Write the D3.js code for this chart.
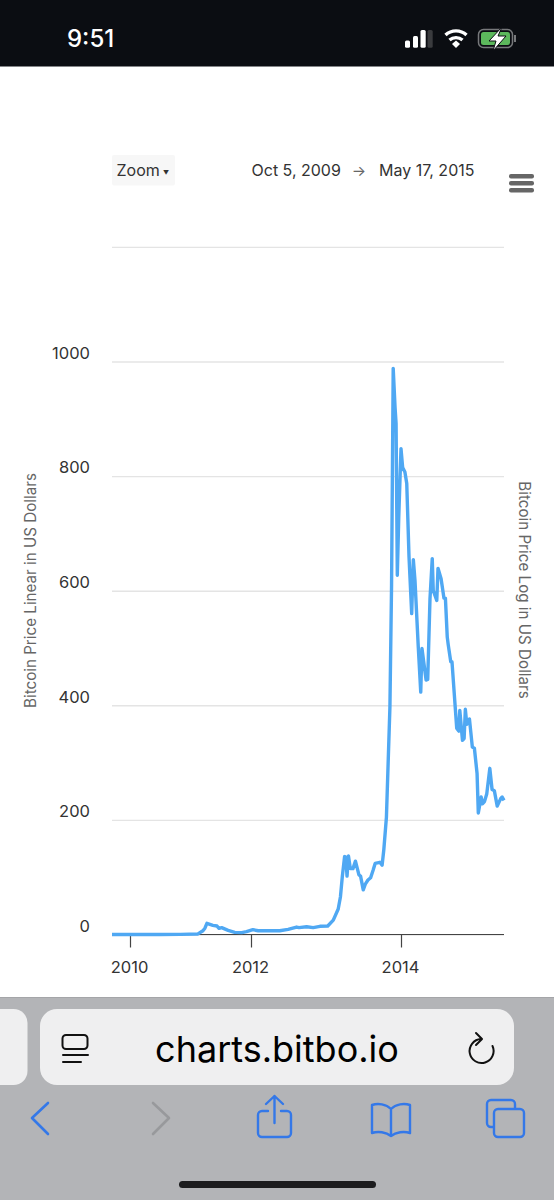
<!DOCTYPE html>
<html><head><meta charset="utf-8">
<script src="https://cdn.jsdelivr.net/npm/d3@7"></script>
<style>html,body{margin:0;padding:0;background:#fff}svg{display:block}text{font-family:Inter,"Noto Sans",sans-serif}</style>
</head><body><svg id="c" width="554" height="1200"></svg>
<script>
const dates = ["2009-10-05","2010-07-01","2010-11-01","2011-02-15","2011-03-17","2011-03-29","2011-04-10","2011-05-16","2011-06-10","2011-06-22","2011-07-08","2011-08-16","2011-09-25","2011-11-06","2011-12-05","2012-01-10","2012-02-05","2012-05-20","2012-06-30","2012-08-10","2012-08-22","2012-09-28","2012-10-30","2012-12-02","2013-01-09","2013-02-05","2013-03-01","2013-03-12","2013-03-21","2013-04-01","2013-04-07","2013-04-13","2013-04-20","2013-04-29","2013-05-12","2013-05-24","2013-06-10","2013-06-18","2013-07-01","2013-07-11","2013-07-24","2013-08-06","2013-08-18","2013-08-28","2013-09-20","2013-10-01","2013-10-09","2013-10-22","2013-11-08","2013-11-16","2013-11-24","2013-12-03","2013-12-08","2013-12-14","2013-12-21","2014-01-01","2014-01-09","2014-01-20","2014-01-29","2014-02-09","2014-02-22","2014-03-02","2014-03-10","2014-03-26","2014-04-07","2014-04-13","2014-05-03","2014-05-11","2014-05-22","2014-06-02","2014-06-07","2014-06-24","2014-06-30","2014-07-15","2014-07-29","2014-08-05","2014-08-14","2014-08-19","2014-08-31","2014-09-06","2014-09-29","2014-10-09","2014-10-14","2014-10-27","2014-11-04","2014-11-10","2014-11-17","2014-11-30","2014-12-14","2014-12-24","2015-01-06","2015-01-12","2015-01-26","2015-02-01","2015-02-11","2015-02-22","2015-03-09","2015-03-20","2015-03-31","2015-04-14","2015-05-02","2015-05-08","2015-05-17"];
const prices = [0,0.06,0.3,1,6.5,11,19.5,16,14.8,10.8,12,7.3,3.8,3.2,4.9,8.4,6.6,6.6,9,13,12,13.6,12,14.3,14.8,25,44.5,66,101,136,135,102,137,115,115,128,104,102,78,88,95,99,112,124,126,121,147,205,397,610,988,920,892,627,728,848,815,807,787,659,560,654,618,502,423,499,444,445,586,656,600,583,639,621,587,587,519,505,476,476,360,355,391,339,342,393,367,376,327,325,281,212,240,228,232,245,290,253,251,224,238,240,234];
const yTicks = [0,200,400,600,800,1000,1200];
const yLabels = [0,200,400,600,800,1000];
const xTicks = ["2010-01-01","2012-01-01","2014-01-01"];
const rangeFrom = "Oct 5, 2009", rangeTo = "May 17, 2015";
const yTitleLeft = "Bitcoin Price Linear in US Dollars", yTitleRight = "Bitcoin Price Log in US Dollars";

const p = d3.timeParse("%Y-%m-%d");
const svg = d3.select("#c");
// Chrome of the phone
svg.append("rect").attr("width",554).attr("height",66.5).attr("fill","#0b0d12");
svg.append("text").attr("x",67).attr("y",46.5).attr("fill","#fff").attr("font-size",24).attr("font-weight",500).text("9:51");
[[405,40.6,5,7.1,"#fff"],[413,36,5,11.7,"#fff"],[420.5,30,5.2,17.7,"#fff"],[427.5,30,5.2,17.7,"#3a3b3e"]].forEach(b=>svg.append("rect").attr("x",b[0]).attr("y",b[1]).attr("width",b[2]).attr("height",b[3]).attr("rx",1.5).attr("fill",b[4]));
svg.append("path").attr("d","M445.5 35a15.5 15.5 0 0 1 21 0M449.5 40a10 10 0 0 1 13 0").attr("fill","none").attr("stroke","#fff").attr("stroke-width",3.4);
svg.append("path").attr("d","M452 44l4 -3.5l4 3.5l-4 4z").attr("fill","#fff");
svg.append("rect").attr("x",478.5).attr("y",29.5).attr("width",34).attr("height",18).attr("rx",5).attr("fill","none").attr("stroke","#77787b").attr("stroke-width",1.5);
svg.append("rect").attr("x",481).attr("y",32).attr("width",29).attr("height",13).attr("rx",2.5).attr("fill","#5cb85c");
svg.append("path").attr("d","M502 27l-13 14h7l-3 10l13 -15h-8z").attr("fill","#fff").attr("stroke","#0b0d12").attr("stroke-width",1);
svg.append("rect").attr("x",514).attr("y",35).attr("width",2).attr("height",7).attr("fill","#77787b");

// Chart header
svg.append("rect").attr("x",112).attr("y",155).attr("width",63).attr("height",30.5).attr("rx",2).attr("fill","#f7f7f7");
const hdr = "#333";
svg.append("text").attr("x",116.5).attr("y",176).attr("font-size",16).attr("fill",hdr).text("Zoom");
svg.append("text").attr("x",166).attr("y",174.5).attr("font-size",6).attr("text-anchor","middle").attr("fill",hdr).text("▼");
svg.append("text").attr("x",251.5).attr("y",176).attr("font-size",16).attr("fill",hdr).text(rangeFrom);
svg.append("text").attr("x",359).attr("y",176).attr("font-size",15).attr("text-anchor","middle").attr("fill","#666").text("→");
svg.append("text").attr("x",379).attr("y",176).attr("font-size",16).attr("fill",hdr).text(rangeTo);
[174,181,188].forEach(y=>svg.append("rect").attr("x",509).attr("y",y).attr("width",25).attr("height",4.6).attr("rx",2).attr("fill","#666"));

// Scales: the source axis is ordinal, so the time axis is piecewise
const x = d3.scaleTime()
  .domain(["2009-10-05","2010-01-01","2012-01-01","2014-01-01","2015-05-17"].map(p))
  .range([112,130,251,401,504]);
const y = d3.scaleLinear().domain([0,1000]).range([934.5,361.5]);

const grid = svg.append("g").attr("transform","translate(112,0)")
  .call(d3.axisLeft(y).tickValues(yTicks).tickSize(-392).tickFormat(""));
grid.select(".domain").remove();
grid.selectAll(".tick line").attr("stroke","#e4e4e4").attr("stroke-width",1.4);

svg.append("g").selectAll("text").data(yLabels).join("text")
  .attr("x",90).attr("y",d=>y(d)-2.7).attr("text-anchor","end")
  .attr("font-size",16.5).attr("fill",hdr).text(d=>d);

const ax = svg.append("g").attr("transform","translate(0,934.5)")
  .call(d3.axisBottom(x).tickValues(xTicks.map(p)).tickSize(13).tickPadding(13.5).tickFormat(d3.timeFormat("%Y")));
ax.select(".domain").attr("stroke","#444").attr("stroke-width",1.2).attr("d","M112 0H504");
ax.selectAll(".tick line").attr("stroke","#444").attr("stroke-width",1.2);
ax.selectAll(".tick text").attr("font-size",16.5).attr("fill",hdr).attr("font-family","Inter,sans-serif").attr("dx",-1);

svg.append("text").attr("transform","translate(35.5,590.5) rotate(-90)").attr("text-anchor","middle").attr("font-size",15.2).attr("fill","#666").text(yTitleLeft);
svg.append("text").attr("transform","translate(518.5,590) rotate(90)").attr("text-anchor","middle").attr("font-size",15.2).attr("fill","#666").text(yTitleRight);

const series = dates.map((d,i)=>({d:p(d),v:prices[i]}));
svg.append("path").datum(series).attr("fill","none").attr("stroke","#4fa8f3").attr("stroke-width",3.4).attr("stroke-linejoin","round")
  .attr("d",d3.line().x(d=>x(d.d)).y(d=>y(d.v)));

// Browser toolbar
svg.append("rect").attr("y",997).attr("width",554).attr("height",203).attr("fill","#b3b4b7");
svg.append("rect").attr("y",997).attr("width",554).attr("height",1).attr("fill","#a4a5a8");
svg.append("rect").attr("x",-30).attr("y",1009).attr("width",57.5).attr("height",76).attr("rx",14).attr("fill","#efeff0");
svg.append("rect").attr("x",40).attr("y",1009).attr("width",474).attr("height",76).attr("rx",17).attr("fill","#efeff0");
svg.append("text").attr("x",277).attr("y",1062).attr("text-anchor","middle").attr("font-size",36).attr("fill","#000").text("charts.bitbo.io");
const ic = (d,c,w)=>svg.append("path").attr("d",d).attr("fill","none").attr("stroke",c).attr("stroke-width",w).attr("stroke-linecap","round").attr("stroke-linejoin","round");
ic("M66 1035h18a3.5 3.5 0 0 1 3.5 3.5v7a3.5 3.5 0 0 1 -3.5 3.5h-18a3.5 3.5 0 0 1 -3.5 -3.5v-7a3.5 3.5 0 0 1 3.5 -3.5zM63 1055h25M63 1062h18","#111",2);
ic("M481 1039A12 12 0 1 0 492.5 1046M476 1033L482 1039L476 1045","#111",2);
const blue="#3478e8";
ic("M48 1103L32 1118L48 1134",blue,2.6);
ic("M153 1103L169 1118L153 1134","#98999c",2.6);
ic("M268 1111h-6a4 4 0 0 0 -4 4v18a4 4 0 0 0 4 4h25a4 4 0 0 0 4 -4v-18a4 4 0 0 0 -4 -4h-6M274.5 1123V1096M266 1104l8.5 -8l8.5 8",blue,2.4);
ic("M391 1109c-5 -5 -13 -6 -19 -4v28c6 -2 14 -1 19 3c5 -4 13 -5 19 -3v-28c-6 -2 -14 -1 -19 4zM391 1109v27",blue,2.4);
ic("M498 1109h22a4 4 0 0 1 4 4v20a4 4 0 0 1 -4 4h-22a4 4 0 0 1 -4 -4v-20a4 4 0 0 1 4 -4zM493 1127h-2a4 4 0 0 1 -4 -4v-19a4 4 0 0 1 4 -4h20a4 4 0 0 1 4 4v4",blue,2.4);
svg.append("rect").attr("x",179).attr("y",1181).attr("width",197).attr("height",7).attr("rx",3.5).attr("fill","#1c1c1e");
</script></body></html>
